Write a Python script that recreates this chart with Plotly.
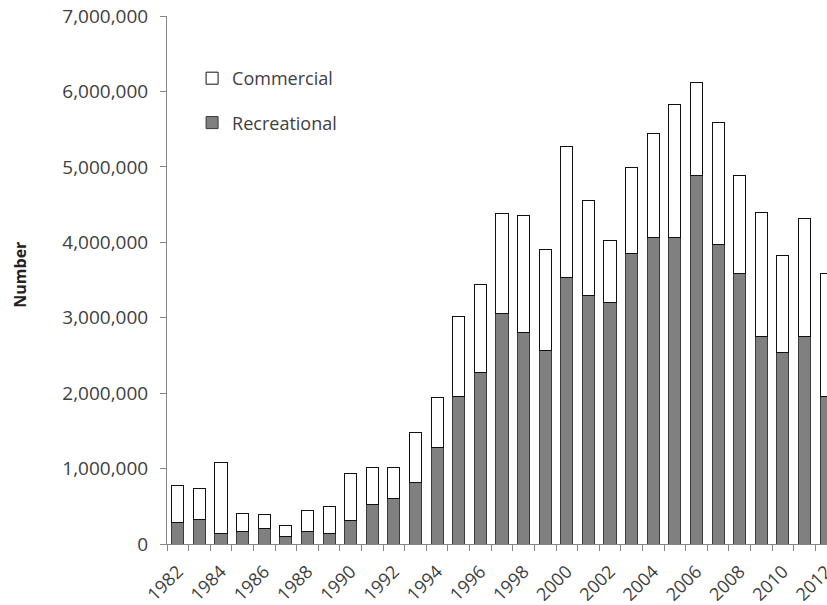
import plotly.graph_objects as go

years = [str(y) for y in range(1982, 2013)]
total = [770000, 735000, 1075000, 400000, 385000, 240000, 450000, 495000, 930000, 1010000,
         1010000, 1477000, 1940000, 3010000, 3440000, 4385000, 4355000, 3905000, 5265000, 4555000,
         4025000, 4995000, 5445000, 5830000, 6120000, 5590000, 4890000, 4400000, 3820000, 4310000,
         3590000]
recreational = [280000, 330000, 145000, 160000, 200000, 105000, 170000, 145000, 305000, 530000,
                600000, 815000, 1280000, 1960000, 2280000, 3060000, 2800000, 2570000, 3535000, 3290000,
                3200000, 3855000, 4070000, 4060000, 4880000, 3970000, 3580000, 2750000, 2540000, 2750000,
                1950000]
commercial = [t - r for t, r in zip(total, recreational)]
tick_text = [y if int(y) % 2 == 0 else "" for y in years]
y_ticks = list(range(0, 7000001, 1000000))

FONT = "Open Sans"
TXT = "#404040"

fig = go.Figure()
fig.add_trace(go.Bar(
    x=years, y=recreational, name="Recreational",
    marker=dict(color="#808080", line=dict(color="#3a3a3a", width=1)),
    legendgroup="r", legendrank=2,
))
fig.add_trace(go.Bar(
    x=years, y=commercial, name="Commercial",
    marker=dict(color="#ffffff", line=dict(color="#111111", width=1)),
    legendgroup="c", legendrank=1,
))

fig.update_layout(
    width=827, height=605,
    barmode="stack", bargap=0.44,
    paper_bgcolor="white", plot_bgcolor="white",
    margin=dict(l=167, r=0, t=16, b=61, autoexpand=False),
    font=dict(family=FONT, size=17, color=TXT),
    showlegend=True,
    legend=dict(
        x=0.038, y=0.9167, xanchor="left", yanchor="top",
        traceorder="grouped", tracegroupgap=18,
        bgcolor="rgba(0,0,0,0)",
        font=dict(family=FONT, size=18, color=TXT),
    ),
    xaxis=dict(
        type="category", range=[-0.5, 30.04],
        tickmode="array", tickvals=years, ticktext=tick_text,
        tickangle=-45, tickson="boundaries",
        ticks="outside", ticklen=6, tickcolor="#868686", tickwidth=1,
        ticklabelstandoff=9, automargin=False,
        showline=True, linecolor="#868686", linewidth=1,
        showgrid=False, zeroline=False,
        tickfont=dict(family=FONT, size=18, color=TXT),
    ),
    yaxis=dict(
        range=[0, 7000000], tickmode="array", tickvals=y_ticks,
        tickformat=",", ticks="outside", ticklen=6, tickcolor="#868686",
        ticklabelstandoff=8, automargin=False,
        showline=True, linecolor="#868686", linewidth=1,
        showgrid=False, zeroline=False,
        tickfont=dict(family=FONT, size=19, color=TXT),
    ),
    annotations=[dict(
        text="<b>Number</b>", xref="paper", yref="paper", x=0, y=0.51,
        xanchor="center", yanchor="middle",
        xshift=-147, textangle=-90, showarrow=False,
        font=dict(family=FONT, size=16, color="#222222"),
    )],
)

fig.write_html(
    "out.html",
    config={"displayModeBar": False},
    post_script="document.body.style.margin='0';document.body.style.overflow='hidden';",
)
